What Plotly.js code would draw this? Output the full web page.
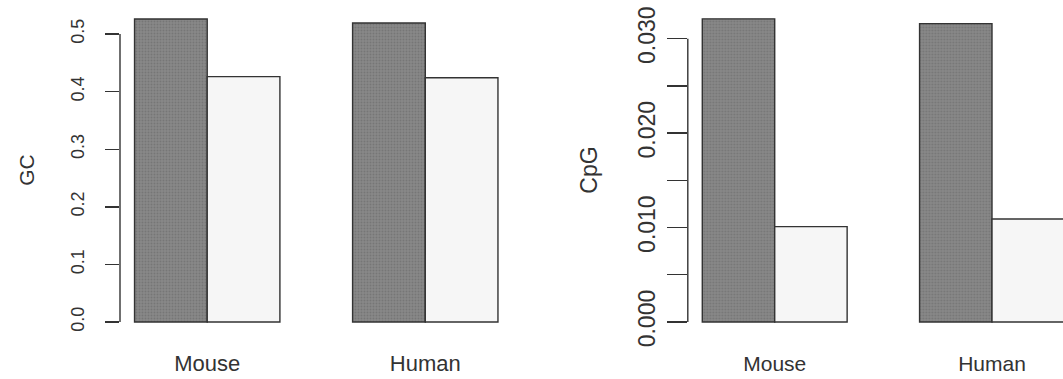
<!DOCTYPE html>
<html>
<head>
<meta charset="utf-8">
<script src="https://cdn.plot.ly/plotly-3.0.1.min.js"></script>
<style>
  html, body { margin: 0; padding: 0; background: #ffffff; }
  #chart { width: 1063px; height: 379px; }
</style>
</head>
<body>
<div id="chart"></div>
<script>
// Species shown on both panels
const species = ['Mouse', 'Human'];

// GC content: first (dark) and second (light) bar of each pair
const gcFirst = [0.526, 0.519];
const gcSecond = [0.426, 0.424];

// CpG frequency: first (dark) and second (light) bar of each pair
const cpgFirst = [0.0321, 0.0316];
const cpgSecond = [0.0101, 0.0109];

// Tick values and labels
const gcTicks = [0.0, 0.1, 0.2, 0.3, 0.4, 0.5];
const gcTickText = ['0.0', '0.1', '0.2', '0.3', '0.4', '0.5'];
const cpgTicks = [0.000, 0.005, 0.010, 0.015, 0.020, 0.025, 0.030];
const cpgTickText = ['0.000', '', '0.010', '', '0.020', '', '0.030'];

const FONT = 'Liberation Sans, Arial, Helvetica, sans-serif';
const INK = '#333333';
const DARK = '#888888';
const LIGHT = '#f6f6f6';

function barTrace(y, fill, xa, ya, dotted) {
  const marker = { color: fill, line: { color: INK, width: 1.4 } };
  if (dotted) {
    marker.pattern = { shape: '.', fgcolor: '#767676', bgcolor: fill, size: 3, solidity: 0.3 };
  }
  return {
    type: 'bar', x: species, y: y, xaxis: xa, yaxis: ya,
    marker: marker, hoverinfo: 'x+y'
  };
}

const data = [
  barTrace(gcFirst, DARK, 'x', 'y', true),
  barTrace(gcSecond, LIGHT, 'x', 'y', false),
  barTrace(cpgFirst, DARK, 'x2', 'y2', true),
  barTrace(cpgSecond, LIGHT, 'x2', 'y2', false)
];

const W = 1063, H = 379;
const plotTop = 5, plotBottom = 335, zeroPx = 322;

const yDomain = [1 - plotBottom / H, 1 - plotTop / H];

// px-per-unit for each value axis
const gcScale = (zeroPx - 34) / 0.5;
const cpgScale = (zeroPx - 38.7) / 0.03;

const catAxis = (domain, range, standoff, size) => ({
  domain: domain, range: range, type: 'category',
  showgrid: false, zeroline: false, showline: false, ticks: '',
  tickfont: { family: FONT, size: size, color: INK },
  ticklabelstandoff: standoff, fixedrange: true
});

const valAxis = (anchor, range, tickvals, ticktext, tickSize, ticklen, labelGap, title, titleSize, standoff) => ({
  anchor: anchor, domain: yDomain, range: range,
  tickmode: 'array', tickvals: tickvals, ticktext: ticktext,
  ticks: 'outside', ticklen: ticklen, tickwidth: 1.4, tickcolor: INK,
  tickangle: -90, tickfont: { family: FONT, size: tickSize, color: INK },
  ticklabelstandoff: labelGap,
  showgrid: false, zeroline: false, showline: false, fixedrange: true,
  title: { text: title, font: { family: FONT, size: titleSize, color: INK }, standoff: standoff }
});

const layout = {
  width: W, height: H,
  margin: { l: 0, r: 0, t: 0, b: 0 },
  paper_bgcolor: '#ffffff', plot_bgcolor: '#ffffff',
  showlegend: false,
  barmode: 'group', bargap: 1 / 3, bargroupgap: 0,
  xaxis: catAxis([120 / W, 512.5 / W], [-0.4, 1.4], 13, 22),
  yaxis: valAxis('x', [-(plotBottom - zeroPx) / gcScale, (zeroPx - plotTop) / gcScale],
                 gcTicks, gcTickText, 18, 14, 14, 'GC', 21, 27),
  xaxis2: catAxis([687.8 / W, 1], [-0.4, (W - 774.7) / 217.3], 14, 21),
  yaxis2: valAxis('x2', [-(plotBottom - zeroPx) / cpgScale, (zeroPx - plotTop) / cpgScale],
                  cpgTicks, cpgTickText, 23, 20, 3, 'CpG', 23, 29),
  shapes: [
    // axis spines run only between the first and last tick
    { type: 'line', xref: 'x domain', yref: 'y', x0: 0, x1: 0, y0: gcTicks[0], y1: gcTicks[gcTicks.length - 1],
      line: { color: INK, width: 1.4 } },
    { type: 'line', xref: 'x2 domain', yref: 'y2', x0: 0, x1: 0, y0: cpgTicks[0], y1: cpgTicks[cpgTicks.length - 1],
      line: { color: INK, width: 1.4 } }
  ]
};

Plotly.newPlot('chart', data, layout, { displayModeBar: false, staticPlot: true });
</script>
</body>
</html>
